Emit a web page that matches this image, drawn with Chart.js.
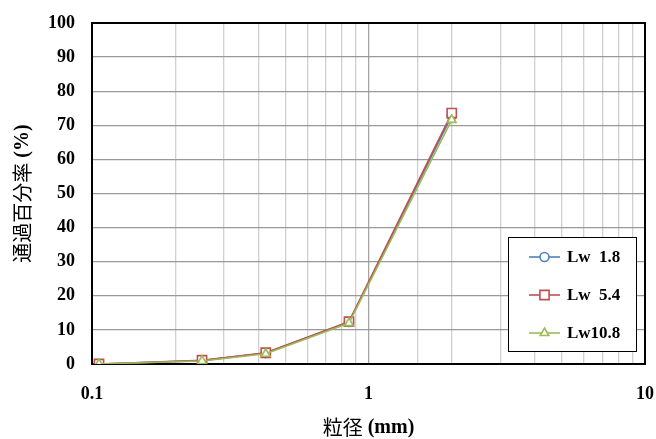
<!DOCTYPE html>
<html>
<head>
<meta charset="utf-8">
<script src="https://cdn.jsdelivr.net/npm/chart.js@4/dist/chart.umd.min.js"></script>
<style>
  html, body { margin: 0; padding: 0; background: #fff; }
  #wrap { width: 656px; height: 439px; }
</style>
</head>
<body>
<div id="wrap"><canvas id="chart"></canvas></div>
<script>
'use strict';

// 粒径 (mm)
const sizes = [0.106, 0.25, 0.425, 0.85, 2.0];
// 通過百分率 (%)
const lw18  = [0, 1.0, 3.2, 12.3, 72.8];
const lw54  = [0, 1.1, 3.3, 12.4, 73.6];
const lw108 = [0, 0.9, 3.0, 12.0, 71.6];
const seriesNames = ['Lw  1.8', 'Lw  5.4', 'Lw10.8'];
const yTicks = [0, 10, 20, 30, 40, 50, 60, 70, 80, 90, 100];
const xLabels = [0.1, 1, 10];
// 軸タイトル (漢字部分 / 単位部分)
const xTitle = ['粒径', ' (mm)'];
const yTitle = ['通過百分率', ' (%)'];

const SERIF = "'Liberation Serif', 'Noto Sans CJK JP', serif";
const CJK   = "'Noto Sans CJK JP', serif";

function toPoints(vals) {
  return sizes.map((x, i) => ({ x: x, y: vals[i] }));
}

function mkSet(label, vals, color, style, radius, order) {
  return {
    label: label,
    data: toPoints(vals),
    order: order,
    borderColor: color,
    backgroundColor: '#ffffff',
    borderWidth: 1.6,
    pointStyle: style,
    pointRadius: radius,
    pointBorderWidth: 1.6,
    pointBorderColor: color,
    pointBackgroundColor: '#ffffff',
    tension: 0
  };
}

// 2つのフォントで続けて書く
function drawTitle(c, parts, x, y, rotate) {
  c.save();
  c.translate(x, y);
  if (rotate) c.rotate(-Math.PI / 2);
  c.textBaseline = 'middle';
  c.fillStyle = '#000';
  const f1 = 'normal 20px ' + CJK;
  const f2 = 'bold 20px ' + SERIF;
  c.font = f1; const w1 = c.measureText(parts[0]).width;
  c.font = f2; const w2 = c.measureText(parts[1]).width;
  let sx = -(w1 + w2) / 2;
  c.font = f1; c.fillText(parts[0], sx, 0);
  c.font = f2; c.fillText(parts[1], sx + w1, 1);
  c.restore();
}

// 枠・凡例・軸タイトル
const framePlugin = {
  id: 'frame',
  beforeDatasetsDraw(chart) {
    const a = chart.chartArea, c = chart.ctx;
    c.save();
    c.strokeStyle = '#000';
    c.lineWidth = 2;
    c.strokeRect(a.left, a.top, a.right - a.left, a.bottom - a.top);
    c.restore();
  },
  afterDraw(chart) {
    const c = chart.ctx;
    const a = chart.chartArea;
    drawTitle(c, xTitle, (a.left + a.right) / 2, 427, false);
    drawTitle(c, yTitle, 22, (a.top + a.bottom) / 2, true);

    const bx = 508, by = 237, bw = 128, bh = 114;
    c.save();
    c.fillStyle = '#fff';
    c.fillRect(bx, by, bw, bh);
    c.strokeStyle = '#000';
    c.lineWidth = 1;
    c.strokeRect(bx + 0.5, by + 0.5, bw, bh);
    chart.data.datasets.forEach((ds, i) => {
      const y = by + 20 + i * 38;
      c.strokeStyle = ds.borderColor;
      c.lineWidth = 1.6;
      c.beginPath();
      c.moveTo(529, y);
      c.lineTo(560, y);
      c.stroke();
      c.fillStyle = '#fff';
      Chart.helpers.drawPoint(c, {
        pointStyle: ds.pointStyle, radius: ds.pointRadius, rotation: 0, borderWidth: 1.6
      }, 544.5, y);
      c.fillStyle = '#000';
      c.font = 'bold 17px ' + SERIF;
      c.textBaseline = 'middle';
      c.fillText(ds.label, 567, y + 1);
    });
    c.restore();
  }
};

new Chart(document.getElementById('chart'), {
  type: 'line',
  data: {
    datasets: [
      mkSet(seriesNames[0], lw18,  '#4F81BD', 'circle',   4.5, 2),
      mkSet(seriesNames[1], lw54,  '#C0504D', 'rect',     6.5, 1),
      mkSet(seriesNames[2], lw108, '#9BBB59', 'triangle', 5,   0)
    ]
  },
  options: {
    responsive: true,
    maintainAspectRatio: false,
    animation: false,
    layout: { padding: { left: 0, right: 11, top: 23, bottom: 0 } },
    plugins: { legend: { display: false }, tooltip: { enabled: false } },
    scales: {
      x: {
        type: 'logarithmic',
        min: 0.1, max: 10,
        border: { display: false },
        grid: {
          drawTicks: false,
          color: ctx => (xLabels.includes(ctx.tick && ctx.tick.value) ? '#a6a6a6' : '#d0d0d0'),
          lineWidth: 1.3
        },
        ticks: {
          autoSkip: false,
          maxRotation: 0,
          padding: 20,
          color: '#000',
          font: { family: SERIF, size: 18, weight: 'bold' },
          callback: v => (xLabels.includes(v) ? String(v) : '')
        },
        afterFit(s) { s.height = 75; s.paddingLeft = 0; s.paddingRight = 0; }
      },
      y: {
        min: 0, max: 100,
        border: { display: false },
        afterBuildTicks(s) { s.ticks = yTicks.map(v => ({ value: v })); },
        grid: { drawTicks: false, color: '#999999', lineWidth: 1.3 },
        ticks: {
          padding: 17,
          color: '#000',
          font: { family: SERIF, size: 18, weight: 'bold' }
        },
        afterFit(s) { s.width = 92; s.paddingTop = 0; s.paddingBottom = 0; }
      }
    }
  },
  plugins: [framePlugin]
});
</script>
</body>
</html>
